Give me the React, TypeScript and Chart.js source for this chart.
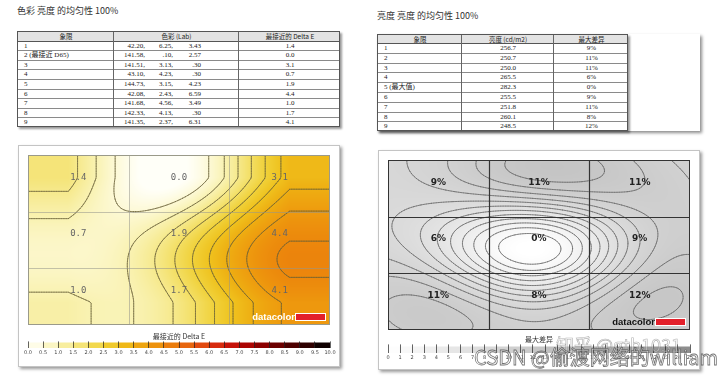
import React, { useEffect, useRef } from 'react';
import { Chart, registerables } from 'chart.js';
Chart.register(...registerables);

// ---------------- data ----------------
const quadrantIds = ['1', '2', '3', '4', '5', '6', '7', '8', '9'];
const colorNotes = ['', '(最接近 D65)', '', '', '', '', '', '', ''];
const labL = ['42.20', '141.58', '141.51', '43.10', '144.73', '42.08', '141.68', '142.33', '141.35'];
const labA = ['6.25', '.10', '3.13', '4.23', '3.15', '2.43', '4.56', '4.13', '2.37'];
const labB = ['3.43', '2.57', '.30', '.30', '4.23', '6.59', '3.49', '.30', '6.31'];
const deltaE = [1.4, 0.0, 3.1, 0.7, 1.9, 4.4, 1.0, 1.7, 4.1];

const lumNotes = ['', '', '', '', '(最大值)', '', '', '', ''];
const luminance = [256.7, 250.7, 250.0, 265.5, 282.3, 255.5, 251.8, 260.1, 248.5];
const maxDiff = [9, 11, 11, 6, 0, 9, 11, 8, 12];

const deltaTickLabels = ['0.0', '0.5', '1.0', '1.5', '2.0', '2.5', '3.0', '3.5', '4.0', '4.5', '5.0', '5.5', '6.0', '6.5', '7.0', '7.5', '8.0', '8.5', '9.0', '9.5', '10.0'];
const diffTickLabels = ['0', '1', '2', '3', '4', '5', '6', '7', '8', '9', '10', '11', '12', '13', '14', '15', '16', '17', '18', '19', '20', '21', '22', '23', '24', '25'];

const deltaLevels = [0.5, 1, 1.5, 2, 2.5, 3, 3.5, 4, 4.5, 5];
const diffLevels = [1, 2, 3, 4, 5, 6, 7, 8, 9, 10, 11, 12, 13];

// colour ramp for delta E (0 .. 10 every 0.5)
const deltaRamp = ['#fffff8', '#fdf9d6', '#f9f2b2', '#f6e98c', '#f3de62', '#f0d13a', '#efc21e', '#eeae12', '#ee9b0e', '#ec880c', '#e9710e', '#e55a10', '#dd3a10', '#d01c0c', '#bb0a06', '#9c0000', '#7c0000', '#5c0000', '#3e0000', '#1e0000', '#000000'];

// ---------------- helpers ----------------
function hexRgb(h: string): number[] {
  return [parseInt(h.slice(1, 3), 16), parseInt(h.slice(3, 5), 16), parseInt(h.slice(5, 7), 16)];
}
const rampRgb = deltaRamp.map(hexRgb);
function deltaColor(v: number): number[] {
  const t = Math.max(0, Math.min(10, v)) / 0.5;
  const i = Math.min(19, Math.floor(t));
  const f = t - i;
  const a = rampRgb[i], b = rampRgb[i + 1];
  return [a[0] + (b[0] - a[0]) * f, a[1] + (b[1] - a[1]) * f, a[2] + (b[2] - a[2]) * f];
}
function greyColor(v: number): number[] {
  const g = Math.max(0, Math.min(255, 255 - v * 4.6));
  return [g, g, g];
}
const rgbStr = (c: number[]) => `rgb(${Math.round(c[0])},${Math.round(c[1])},${Math.round(c[2])})`;

// Gaussian radial-basis interpolation (mean reverting) through the measured points
function solve(A: number[][], b: number[]): number[] {
  const n = b.length;
  const M = A.map((r, i) => [...r, b[i]]);
  for (let c = 0; c < n; c++) {
    let p = c;
    for (let r = c + 1; r < n; r++) if (Math.abs(M[r][c]) > Math.abs(M[p][c])) p = r;
    [M[c], M[p]] = [M[p], M[c]];
    for (let r = 0; r < n; r++) {
      if (r === c) continue;
      const k = M[r][c] / M[c][c];
      for (let q = c; q <= n; q++) M[r][q] -= k * M[c][q];
    }
  }
  return M.map((r, i) => r[n] / r[i]);
}
function makeRbf(pts: { x: number; y: number; v: number }[], sigma: number, lo: number, hi: number) {
  const n = pts.length;
  const mean = pts.reduce((s, p) => s + p.v, 0) / n;
  const k = (dx: number, dy: number) => Math.exp(-(dx * dx + dy * dy) / (2 * sigma * sigma));
  const A = pts.map((p) => pts.map((q) => k(p.x - q.x, p.y - q.y)));
  const w = solve(A, pts.map((p) => p.v - mean));
  return (x0: number, y0: number) => {
    const x = Math.min(hi, Math.max(lo, x0)), y = Math.min(hi, Math.max(lo, y0));
    let s = mean;
    for (let i = 0; i < n; i++) s += w[i] * k(x - pts[i].x, y - pts[i].y);
    return Math.max(0, s);
  };
}

interface HeatCfg {
  name: string;
  sigma: number;
  lo: number;
  hi: number;
  color: (v: number) => number[];
  levels: number[];
  contourColor: string;
  contourWidth: number;
  gridColor: string;
  gridWidth: number;
  borderColor: string;
  labelFont: string;
  labelColor: string;
  fmt: (v: number) => string;
  logoColor: string;
}

function makeHeatPlugin(cfg: HeatCfg) {
  return {
    id: 'heat_' + cfg.name,
    beforeDraw(chart: any) {
      const { ctx, chartArea: a } = chart;
      const xs = chart.scales.x, ys = chart.scales.y;
      const pts = chart.data.datasets[0].data as any[];
      const field = makeRbf(pts, cfg.sigma, cfg.lo, cfg.hi);
      const w = Math.round(a.right - a.left), h = Math.round(a.bottom - a.top);
      const off = document.createElement('canvas');
      off.width = w; off.height = h;
      const octx = off.getContext('2d')!;
      const img = octx.createImageData(w, h);
      for (let py = 0; py < h; py++) {
        const dy = ys.getValueForPixel(a.top + py + 0.5);
        for (let px = 0; px < w; px++) {
          const dx = xs.getValueForPixel(a.left + px + 0.5);
          const c = cfg.color(field(dx, dy));
          const k = (py * w + px) * 4;
          img.data[k] = c[0]; img.data[k + 1] = c[1]; img.data[k + 2] = c[2]; img.data[k + 3] = 255;
        }
      }
      octx.putImageData(img, 0, 0);
      ctx.drawImage(off, a.left, a.top);

      // contours (marching squares)
      const NX = 181, NY = 103;
      const f: number[][] = [];
      for (let j = 0; j < NY; j++) {
        const row: number[] = [];
        for (let i = 0; i < NX; i++) row.push(field((3 * i) / (NX - 1), (3 * j) / (NY - 1)));
        f.push(row);
      }
      const toPx = (gi: number, gj: number) => [xs.getPixelForValue((3 * gi) / (NX - 1)), ys.getPixelForValue((3 * gj) / (NY - 1))];
      ctx.save();
      ctx.beginPath(); ctx.rect(a.left, a.top, w, h); ctx.clip();
      ctx.strokeStyle = cfg.contourColor; ctx.lineWidth = cfg.contourWidth; ctx.lineCap = 'round';
      for (const L of cfg.levels) {
        ctx.beginPath();
        for (let j = 0; j < NY - 1; j++) {
          for (let i = 0; i < NX - 1; i++) {
            const v = [f[j][i], f[j][i + 1], f[j + 1][i + 1], f[j + 1][i]];
            const p = [[i, j], [i + 1, j], [i + 1, j + 1], [i, j + 1]];
            const cr: number[][] = [];
            for (let e = 0; e < 4; e++) {
              const a1 = e, b1 = (e + 1) % 4;
              if ((v[a1] > L) !== (v[b1] > L)) {
                const t = (L - v[a1]) / (v[b1] - v[a1]);
                cr.push([p[a1][0] + t * (p[b1][0] - p[a1][0]), p[a1][1] + t * (p[b1][1] - p[a1][1])]);
              }
            }
            for (let s = 0; s + 1 < cr.length; s += 2) {
              const A = toPx(cr[s][0], cr[s][1]), B = toPx(cr[s + 1][0], cr[s + 1][1]);
              ctx.moveTo(A[0], A[1]); ctx.lineTo(B[0], B[1]);
            }
          }
        }
        ctx.stroke();
      }
      ctx.restore();

      // grid and border
      ctx.save();
      ctx.strokeStyle = cfg.gridColor; ctx.lineWidth = cfg.gridWidth;
      ctx.beginPath();
      for (const k of [1, 2]) {
        const px = Math.round(xs.getPixelForValue(k)) + 0.5;
        const py = Math.round(ys.getPixelForValue(k)) + 0.5;
        ctx.moveTo(px, a.top); ctx.lineTo(px, a.bottom);
        ctx.moveTo(a.left, py); ctx.lineTo(a.right, py);
      }
      ctx.stroke();
      ctx.strokeStyle = cfg.borderColor; ctx.lineWidth = 1;
      ctx.strokeRect(a.left + 0.5, a.top + 0.5, w - 1, h - 1);
      ctx.restore();
    },
    afterDraw(chart: any) {
      const { ctx, chartArea: a } = chart;
      const xs = chart.scales.x, ys = chart.scales.y;
      const pts = chart.data.datasets[0].data as any[];
      ctx.save();
      ctx.font = cfg.labelFont; ctx.fillStyle = cfg.labelColor;
      ctx.textAlign = 'center'; ctx.textBaseline = 'middle';
      pts.forEach((p) => {
        ctx.fillText(cfg.fmt(p.v), xs.getPixelForValue(p.x), ys.getPixelForValue(p.y) - 6);
      });
      // logo
      ctx.font = 'bold 9.5px "Liberation Sans", Arial, sans-serif';
      ctx.textAlign = 'right'; ctx.textBaseline = 'alphabetic';
      ctx.fillStyle = cfg.logoColor;
      ctx.fillText('datacolor', a.right - 35, a.bottom - 5);
      ctx.fillStyle = '#ffffff';
      ctx.fillRect(a.right - 35, a.bottom - 12, 31, 8);
      ctx.fillStyle = '#e3202a';
      ctx.fillRect(a.right - 34, a.bottom - 11, 29, 6);
      ctx.restore();
    },
  };
}

function buildPoints(vals: number[]) {
  return vals.map((v, i) => ({ x: (i % 3) + 0.5, y: Math.floor(i / 3) + 0.5, v }));
}

function heatChart(canvas: HTMLCanvasElement, vals: number[], cfg: HeatCfg) {
  return new Chart(canvas, {
    type: 'scatter',
    data: { datasets: [{ data: buildPoints(vals) as any, pointRadius: 0 }] },
    options: {
      animation: false, responsive: false, events: [],
      layout: { padding: { left: 10, right: 10, top: 10, bottom: 5 } },
      plugins: { legend: { display: false }, tooltip: { enabled: false } },
      scales: {
        x: { type: 'linear', min: 0, max: 3, display: false },
        y: { type: 'linear', min: 0, max: 3, reverse: true, display: false },
      },
    },
    plugins: [makeHeatPlugin(cfg)],
  });
}

function colorbarChart(canvas: HTMLCanvasElement, title: string, labels: string[], colorAt: (v: number) => number[], yMax: number, titleTop: number) {
  const ticks = labels.map(Number);
  const step = ticks[1] - ticks[0];
  const bins = ticks.slice(0, -1);
  return new Chart(canvas, {
    type: 'bar',
    data: {
      datasets: [{
        data: bins.map((b) => ({ x: b + step / 2, y: 1 })) as any,
        backgroundColor: bins.map((b) => rgbStr(colorAt(b + step / 2))),
        borderWidth: 0, barPercentage: 1, categoryPercentage: 1,
      }],
    },
    options: {
      animation: false, responsive: false, events: [],
      layout: { padding: { left: 10, right: 10, top: 0, bottom: 2 } },
      plugins: {
        legend: { display: false }, tooltip: { enabled: false },
        title: { display: true, text: title, color: '#333', font: { size: 7, family: '"Noto Sans CJK SC", sans-serif', weight: 'normal' }, padding: { top: titleTop, bottom: 1 } },
      },
      scales: {
        x: {
          type: 'linear', min: ticks[0], max: ticks[ticks.length - 1], offset: false,
          grid: { offset: false, drawOnChartArea: true, drawTicks: false, color: '#222', lineWidth: 0.7, z: 1 } as any,
          border: { display: false },
          ticks: { stepSize: step, autoSkip: false, maxRotation: 0, padding: 2, color: '#444', font: { size: 5, family: '"DejaVu Sans", sans-serif' }, callback: (v: any) => labels[Math.round((Number(v) - ticks[0]) / step)] ?? '' },
        },
        y: { display: false, min: 0, max: yMax },
      },
    },
  });
}

// ---------------- table ----------------
function DataTable(props: { left: number; top: number; widths: number[]; headH: number; rowH: number; header: string[]; rows: React.ReactNode[][]; align: string[] }) {
  const { left, top, widths, headH, rowH, header, rows, align } = props;
  const W = widths.reduce((s, v) => s + v, 0);
  const H = headH + rowH * rows.length;
  const xs = [0];
  widths.forEach((w) => xs.push(xs[xs.length - 1] + w));
  return (
    <div style={{ position: 'absolute', left, top, width: W, height: H, boxSizing: 'border-box', border: '1px solid #555', boxShadow: '2px 2px 2px rgba(0,0,0,0.4)', background: '#fff', fontSize: 7, color: '#222', fontFamily: '"Liberation Serif", "Noto Sans CJK SC", serif' }}>
      <div style={{ position: 'absolute', left: 0, top: 0, right: 0, height: headH - 1, background: '#e3e3e3', borderBottom: '1px solid #555' }} />
      {rows.slice(1).map((_, r) => (
        <div key={'h' + r} style={{ position: 'absolute', left: 0, right: 0, top: headH + (r + 1) * rowH - 1, height: 0, borderTop: '1px solid #8a8a8a' }} />
      ))}
      {xs.slice(1, -1).map((x, c) => (
        <div key={'v' + c} style={{ position: 'absolute', top: 0, bottom: 0, left: x - 1, width: 0, borderLeft: '1px solid #666' }} />
      ))}
      {header.map((t, c) => (
        <div key={'t' + c} style={{ position: 'absolute', left: xs[c], width: widths[c], top: 0, height: headH, lineHeight: headH - 1 + 'px', textAlign: 'center', whiteSpace: 'nowrap', fontFamily: '"Noto Sans CJK SC", sans-serif', fontSize: 6.5 }}>{t}</div>
      ))}
      {rows.map((row, r) =>
        row.map((cell, c) => (
          <div key={r + '_' + c} style={{ position: 'absolute', left: xs[c] + (align[c] === 'left' ? 6 : 0), width: widths[c] - (align[c] === 'left' ? 6 : 0), top: headH + r * rowH, height: rowH, lineHeight: rowH - 1 + 'px', textAlign: align[c] as any, whiteSpace: 'nowrap' }}>{cell}</div>
        ))
      )}
    </div>
  );
}

function LabCell({ i }: { i: number }) {
  const s = (x: number): React.CSSProperties => ({ position: 'absolute', right: x, top: 0 });
  return (
    <div style={{ position: 'relative', width: '100%', height: '100%' }}>
      <span style={s(125 - 31)}>{labL[i]},</span>
      <span style={s(125 - 59)}>{labA[i]},</span>
      <span style={s(125 - 87)}>{labB[i]}</span>
    </div>
  );
}

export default function App() {
  const hl = useRef<HTMLCanvasElement>(null);
  const cl = useRef<HTMLCanvasElement>(null);
  const hr = useRef<HTMLCanvasElement>(null);
  const cr = useRef<HTMLCanvasElement>(null);

  useEffect(() => {
    const charts: Chart[] = [];
    charts.push(heatChart(hl.current!, deltaE, {
      name: 'delta', sigma: 0.9, lo: 0.4, hi: 2.6, color: deltaColor, levels: deltaLevels,
      contourColor: 'rgba(105,95,55,0.75)', contourWidth: 0.9,
      gridColor: 'rgba(150,150,140,0.55)', gridWidth: 1, borderColor: '#9a9a8a',
      labelFont: '9px "DejaVu Sans Mono", monospace', labelColor: '#666',
      fmt: (v) => v.toFixed(1), logoColor: '#ffffff',
    }));
    charts.push(colorbarChart(cl.current!, '最接近的 Delta E', deltaTickLabels, deltaColor, 1.3, 2));
    charts.push(heatChart(hr.current!, maxDiff, {
      name: 'diff', sigma: 0.7, lo: -1, hi: 4, color: greyColor, levels: diffLevels,
      contourColor: 'rgba(95,95,95,0.7)', contourWidth: 0.9,
      gridColor: '#333', gridWidth: 1.2, borderColor: '#333',
      labelFont: 'bold 9px "DejaVu Sans", sans-serif', labelColor: '#222',
      fmt: (v) => v + '%', logoColor: '#111',
    }));
    charts.push(colorbarChart(cr.current!, '最大差异', diffTickLabels, greyColor, 1.4, 0));
    return () => charts.forEach((c) => c.destroy());
  }, []);

  const leftRows = quadrantIds.map((q, i) => [
    q + (colorNotes[i] ? ' ' + colorNotes[i] : ''),
    <LabCell i={i} />,
    deltaE[i].toFixed(1),
  ]);
  const rightRows = quadrantIds.map((q, i) => [
    q + (lumNotes[i] ? ' ' + lumNotes[i] : ''),
    luminance[i].toFixed(1),
    maxDiff[i] + '%',
  ]);

  const cv: React.CSSProperties = { position: 'absolute', display: 'block' };
  const title: React.CSSProperties = { position: 'absolute', fontSize: 9, color: '#333', fontFamily: '"Noto Sans CJK SC", sans-serif', whiteSpace: 'nowrap', lineHeight: '12px' };

  return (
    <div style={{ position: 'absolute', left: 0, top: 0, width: 720, height: 381, background: '#fff', overflow: 'hidden' }}>
      <div style={{ ...title, left: 17, top: 5 }}>色彩 亮度 的均匀性 100%</div>
      <div style={{ ...title, left: 377, top: 10 }}>亮度 亮度 的均匀性 100%</div>

      <DataTable left={17} top={31} widths={[96, 125, 102]} headH={9.5} rowH={9.6} header={['象限', '色彩 (Lab)', '最接近的 Delta E']} rows={leftRows} align={['left', 'left', 'center']} />

      <div style={{ position: 'absolute', left: 377, top: 34, width: 323, height: 97, background: '#fff', boxShadow: '2px 2px 3px rgba(0,0,0,0.45)' }} />
      <DataTable left={377} top={34} widths={[84, 92, 75]} headH={9} rowH={9.8} header={['象限', '亮度 (cd/m2)', '最大差异']} rows={rightRows} align={['left', 'center', 'center']} />

      <div style={{ position: 'absolute', left: 18, top: 145, width: 322, height: 222, boxSizing: 'border-box', border: '1px solid #c4c4c4', boxShadow: '2px 2px 3px rgba(0,0,0,0.4)', background: '#fff' }} />
      <canvas ref={hl} width={322} height={185} style={{ ...cv, left: 18, top: 145 }} />
      <canvas ref={cl} width={322} height={30} style={{ ...cv, left: 18, top: 330 }} />

      <div style={{ position: 'absolute', left: 378, top: 150, width: 322, height: 220, boxSizing: 'border-box', border: '1px solid #c4c4c4', boxShadow: '2px 2px 3px rgba(0,0,0,0.4)', background: '#fff' }} />
      <canvas ref={hr} width={322} height={185} style={{ ...cv, left: 378, top: 150 }} />
      <canvas ref={cr} width={322} height={30} style={{ ...cv, left: 378, top: 335 }} />

      <div style={{ position: 'absolute', left: 556, top: 334, fontSize: 18, lineHeight: '20px', whiteSpace: 'nowrap', fontFamily: '"Noto Sans CJK SC", sans-serif', color: 'rgba(255,255,255,0.35)', WebkitTextStroke: '0.6px rgba(110,110,110,0.55)' } as any}>知乎 @gtb1031</div>
      <div style={{ position: 'absolute', left: 474, top: 345, fontSize: 20, lineHeight: '24px', whiteSpace: 'nowrap', fontFamily: '"Noto Sans CJK SC", sans-serif', color: 'rgba(255,255,255,0.55)', WebkitTextStroke: '0.8px rgba(90,90,90,0.85)' } as any}>CSDN @偷渡网络的william</div>
    </div>
  );
}
